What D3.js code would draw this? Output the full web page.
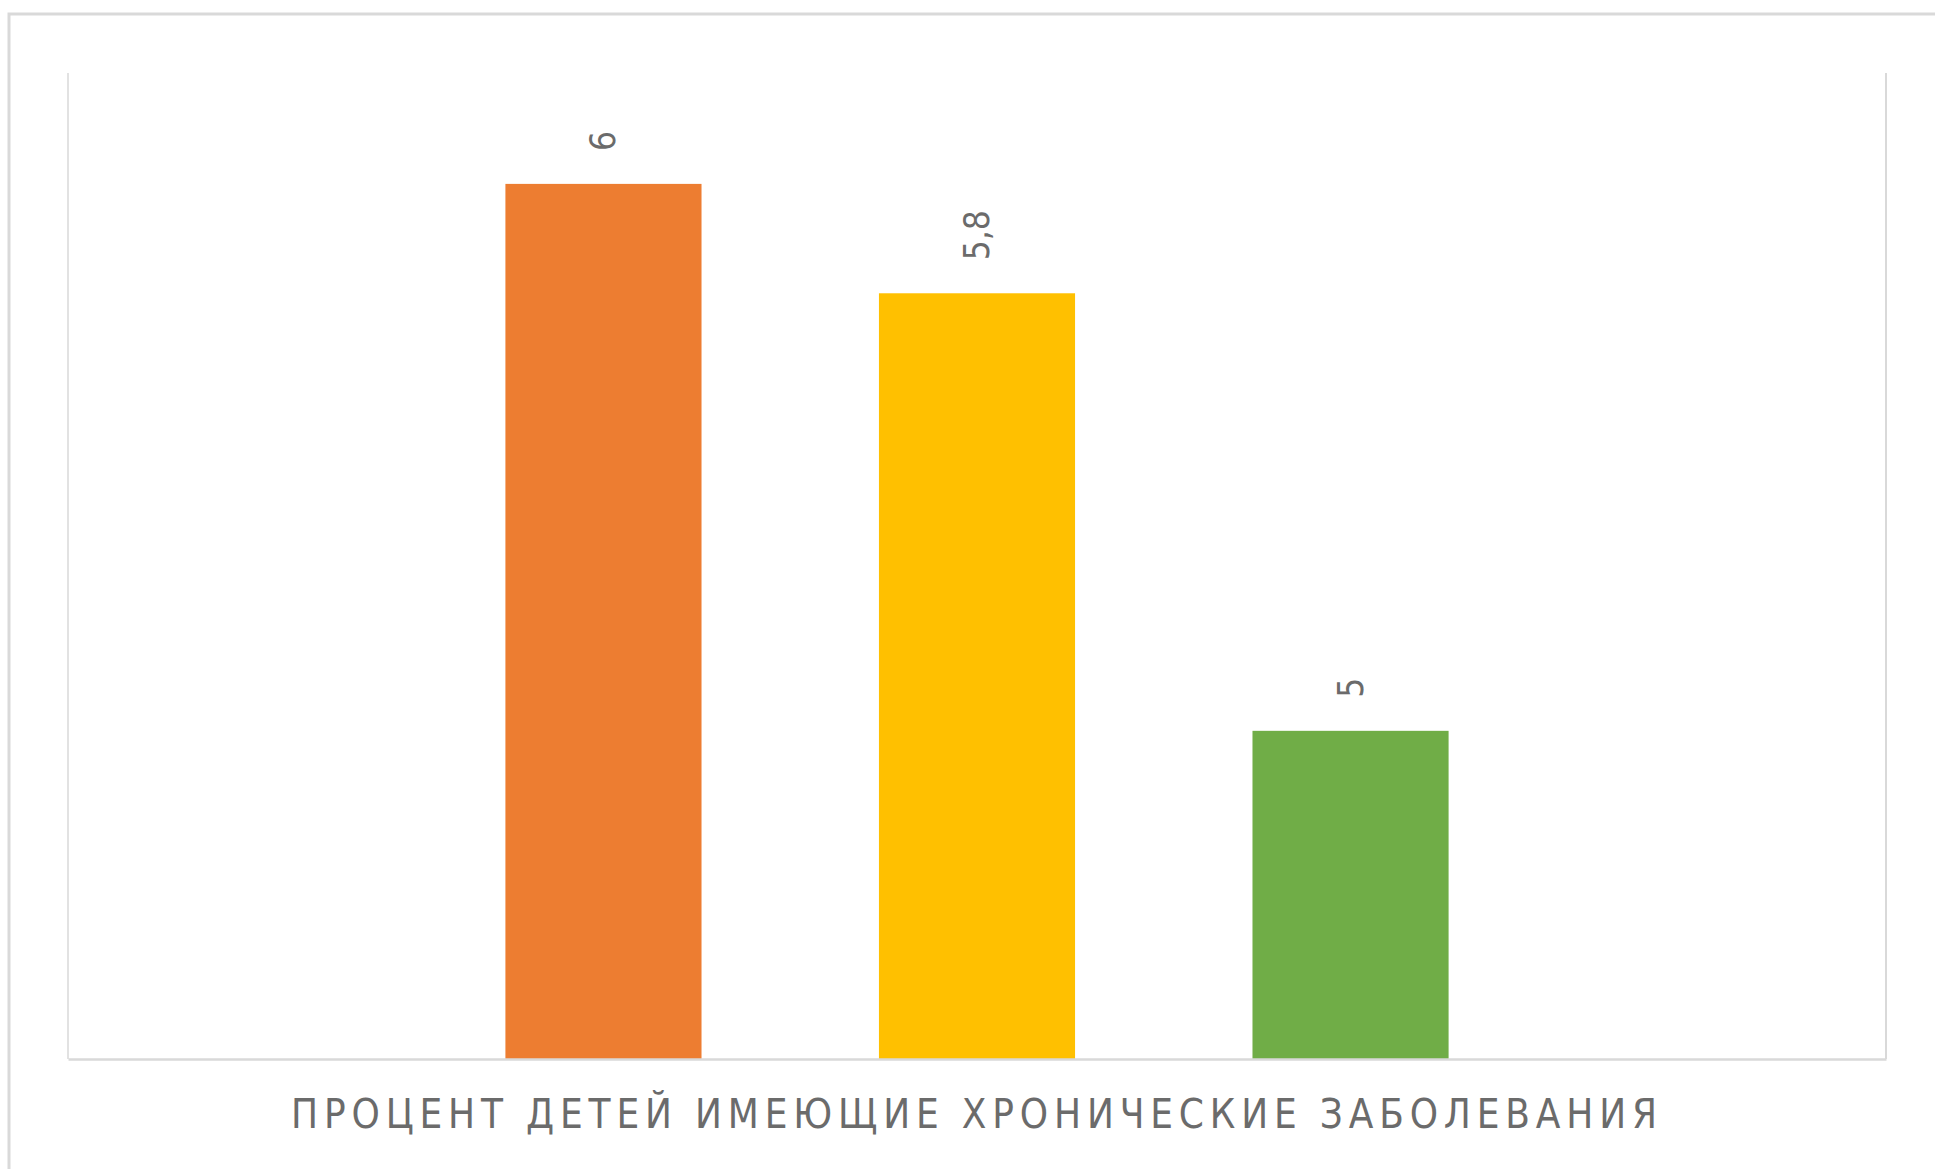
<!DOCTYPE html>
<html><head><meta charset="utf-8">
<script src="https://cdn.jsdelivr.net/npm/d3@7"></script>
<style>html,body{margin:0;padding:0;background:#fff;}svg{display:block;}</style>
</head><body>
<script>
const categories = ["ПРОЦЕНТ ДЕТЕЙ ИМЕЮЩИЕ ХРОНИЧЕСКИЕ ЗАБОЛЕВАНИЯ"];
const seriesNames = ["Серия 1", "Серия 2", "Серия 3"];
const seriesValues = [6, 5.8, 5];
const valueLabels = ["6", "5,8", "5"];
const colors = ["#ED7D31", "#FFC000", "#70AD47"];

const W = 1935, H = 1169;
const svg = d3.select("body").append("svg").attr("width", W).attr("height", H);

// outer chart border (cropped)
svg.append("path").attr("d", `M9,${H+5} L9,14 L${W+5},14`)
  .attr("fill", "none").attr("stroke", "#d9d9d9").attr("stroke-width", 3);

const plot = {l: 68, t: 73, r: 1886, b: 1059};

const x0 = d3.scaleBand().domain(categories).range([plot.l, plot.r]);
const x1 = d3.scaleBand().domain(seriesNames).range([0, x0.bandwidth()]).paddingInner(0.475).paddingOuter(1.171);
const y = d3.scaleLinear().domain([4.4, 6.2]).range([plot.b, plot.t + 1.5]);

// plot area border lines
svg.append("line").attr("x1", plot.l).attr("x2", plot.l).attr("y1", plot.t).attr("y2", plot.b)
  .attr("stroke", "#d9d9d9").attr("stroke-width", 1.5);
svg.append("line").attr("x1", plot.r).attr("x2", plot.r).attr("y1", plot.t).attr("y2", plot.b)
  .attr("stroke", "#d9d9d9").attr("stroke-width", 2);

const g = svg.append("g").attr("transform", `translate(${x0(categories[0])},0)`);
g.selectAll("rect").data(seriesValues).join("rect")
  .attr("x", (d, i) => x1(seriesNames[i]))
  .attr("width", x1.bandwidth())
  .attr("y", d => y(d))
  .attr("height", d => y.range()[0] - y(d))
  .attr("fill", (d, i) => colors[i]);

g.selectAll("text.val").data(seriesValues).join("text")
  .attr("class", "val")
  .attr("transform", (d, i) => `translate(${x1(seriesNames[i]) + x1.bandwidth()/2},${y(d) - 33}) rotate(-90)`)
  .attr("text-anchor", "start").attr("dominant-baseline", "central")
  .attr("font-family", "'DejaVu Sans Condensed', 'Liberation Sans Narrow', sans-serif").attr("font-size", 35)
  .attr("fill", "#6b6b6b")
  .text((d, i) => valueLabels[i]);

// x axis baseline
const xAxis = d3.axisBottom(x0).tickSize(0).tickFormat("");
const ax = svg.append("g").attr("transform", `translate(0,${plot.b})`).call(xAxis);
ax.select(".domain").attr("stroke", "#d9d9d9").attr("stroke-width", 2.5);

svg.append("text")
  .attr("x", 291).attr("y", 1128)
  .attr("textLength", 1366).attr("lengthAdjust", "spacing")
  .attr("font-family", "'Liberation Sans Narrow', 'DejaVu Sans Condensed', sans-serif").attr("font-size", 40)
  .attr("fill", "#6b6b6b")
  .text(categories[0]);
</script>
</body></html>
